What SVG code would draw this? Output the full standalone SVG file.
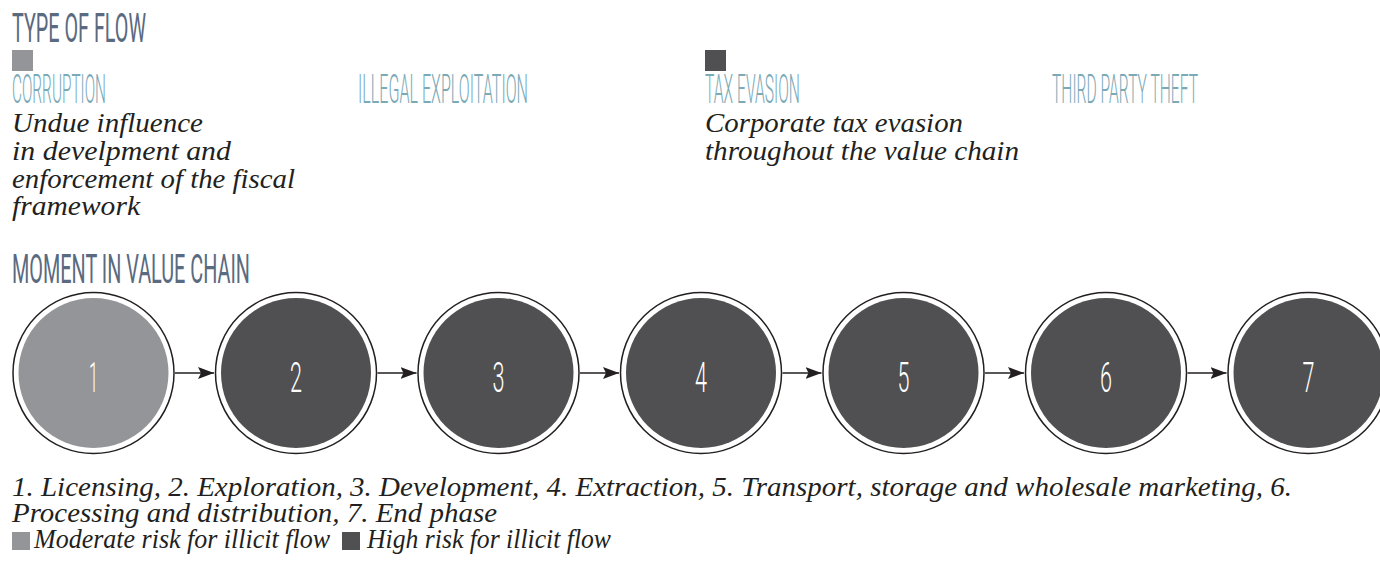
<svg xmlns="http://www.w3.org/2000/svg" width="1380" height="567" viewBox="0 0 1380 567">
<defs>
<style>
.h{font-family:Roboto,"Liberation Sans",Arial,sans-serif;font-weight:400;font-size:40px;fill:#5a6a80}
.cat{font-family:Roboto,"Liberation Sans",Arial,sans-serif;font-weight:300;font-size:41px;fill:#7aa9b7}
.it{font-family:"Liberation Serif","DejaVu Serif",serif;font-style:italic;font-size:27px;fill:#231f20}
.num{font-family:Roboto,"Liberation Sans",Arial,sans-serif;font-weight:300;font-size:42px;fill:#ffffff;text-anchor:middle}
.ring{fill:#ffffff;stroke:#231f20;stroke-width:1.5}
.mod{fill:#949599}
.high{fill:#505052}
.conn{stroke:#231f20;stroke-width:1.5;fill:none}
</style>
<marker id="arr" viewBox="0 0 16 12" refX="16" refY="6" markerWidth="16" markerHeight="12" markerUnits="userSpaceOnUse" orient="auto">
<path d="M0,0 L16,6 L0,12 L3,6 Z" fill="#231f20"/>
</marker>
</defs>
<rect width="1380" height="567" fill="#ffffff"/>

<g id="header-type">
<text class="h" x="12" y="42" textLength="134" lengthAdjust="spacingAndGlyphs">TYPE OF FLOW</text>
</g>

<g id="flow-corruption">
<rect class="mod" x="12" y="50" width="21" height="21"/>
<text class="cat" x="12" y="103" textLength="94" lengthAdjust="spacingAndGlyphs">CORRUPTION</text>
<text class="it" x="12" y="132" textLength="191" lengthAdjust="spacingAndGlyphs">Undue influence</text>
<text class="it" x="12" y="160" textLength="219" lengthAdjust="spacingAndGlyphs">in develpment and</text>
<text class="it" x="12" y="188" textLength="283" lengthAdjust="spacingAndGlyphs">enforcement of the fiscal</text>
<text class="it" x="12" y="215" textLength="128" lengthAdjust="spacingAndGlyphs">framework</text>
</g>

<g id="flow-illegal">
<text class="cat" x="358" y="103" textLength="170" lengthAdjust="spacingAndGlyphs">ILLEGAL EXPLOITATION</text>
</g>

<g id="flow-tax">
<rect class="high" x="705" y="50" width="21" height="21"/>
<text class="cat" x="705" y="103" textLength="95" lengthAdjust="spacingAndGlyphs">TAX EVASION</text>
<text class="it" x="705" y="132" textLength="258" lengthAdjust="spacingAndGlyphs">Corporate tax evasion</text>
<text class="it" x="705" y="160" textLength="314" lengthAdjust="spacingAndGlyphs">throughout the value chain</text>
</g>

<g id="flow-theft">
<text class="cat" x="1052" y="103" textLength="146" lengthAdjust="spacingAndGlyphs">THIRD PARTY THEFT</text>
</g>

<g id="header-moment">
<text class="h" x="12" y="282.5" textLength="238" lengthAdjust="spacingAndGlyphs">MOMENT IN VALUE CHAIN</text>
</g>

<g id="connectors">
<line class="conn" x1="175" y1="373" x2="214" y2="373" marker-end="url(#arr)"/>
<line class="conn" x1="377.5" y1="373" x2="416.5" y2="373" marker-end="url(#arr)"/>
<line class="conn" x1="580" y1="373" x2="619" y2="373" marker-end="url(#arr)"/>
<line class="conn" x1="782.5" y1="373" x2="821.5" y2="373" marker-end="url(#arr)"/>
<line class="conn" x1="985" y1="373" x2="1024" y2="373" marker-end="url(#arr)"/>
<line class="conn" x1="1187.5" y1="373" x2="1226.5" y2="373" marker-end="url(#arr)"/>
</g>

<g id="step-1">
<circle class="ring" cx="93.5" cy="373" r="80.5"/>
<circle class="mod" cx="93.5" cy="373" r="75"/>
<text class="num" x="93.5" y="391.5" textLength="9" lengthAdjust="spacingAndGlyphs">1</text>
</g>
<g id="step-2">
<circle class="ring" cx="296" cy="373" r="80.5"/>
<circle class="high" cx="296" cy="373" r="75"/>
<text class="num" x="296" y="391.5" textLength="12" lengthAdjust="spacingAndGlyphs">2</text>
</g>
<g id="step-3">
<circle class="ring" cx="498.5" cy="373" r="80.5"/>
<circle class="high" cx="498.5" cy="373" r="75"/>
<text class="num" x="498.5" y="391.5" textLength="12" lengthAdjust="spacingAndGlyphs">3</text>
</g>
<g id="step-4">
<circle class="ring" cx="701" cy="373" r="80.5"/>
<circle class="high" cx="701" cy="373" r="75"/>
<text class="num" x="701" y="391.5" textLength="12" lengthAdjust="spacingAndGlyphs">4</text>
</g>
<g id="step-5">
<circle class="ring" cx="903.5" cy="373" r="80.5"/>
<circle class="high" cx="903.5" cy="373" r="75"/>
<text class="num" x="903.5" y="391.5" textLength="12" lengthAdjust="spacingAndGlyphs">5</text>
</g>
<g id="step-6">
<circle class="ring" cx="1106" cy="373" r="80.5"/>
<circle class="high" cx="1106" cy="373" r="75"/>
<text class="num" x="1106" y="391.5" textLength="12" lengthAdjust="spacingAndGlyphs">6</text>
</g>
<g id="step-7">
<circle class="ring" cx="1308.5" cy="373" r="80.5"/>
<circle class="high" cx="1308.5" cy="373" r="75"/>
<text class="num" x="1308.5" y="391.5" textLength="12" lengthAdjust="spacingAndGlyphs">7</text>
</g>

<g id="caption">
<text class="it" x="12" y="496" textLength="1280" lengthAdjust="spacingAndGlyphs">1. Licensing, 2. Exploration, 3. Development, 4. Extraction, 5. Transport, storage and wholesale marketing, 6.</text>
<text class="it" x="12" y="522" textLength="485" lengthAdjust="spacingAndGlyphs">Processing and distribution, 7. End phase</text>
</g>

<g id="legend">
<rect class="mod" x="12" y="532" width="18" height="18"/>
<text class="it" x="34" y="548" textLength="296" lengthAdjust="spacingAndGlyphs">Moderate risk for illicit flow</text>
<rect class="high" x="342" y="532" width="18" height="18"/>
<text class="it" x="367" y="548" textLength="244" lengthAdjust="spacingAndGlyphs">High risk for illicit flow</text>
</g>
</svg>
